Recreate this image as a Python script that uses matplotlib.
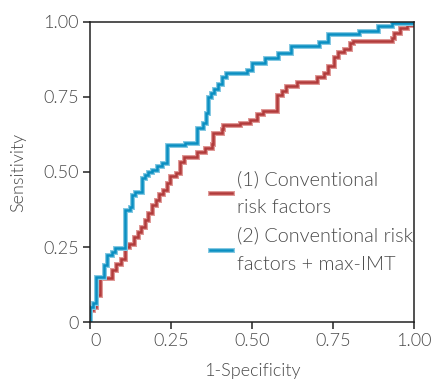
import matplotlib
matplotlib.use("Agg")
import matplotlib.pyplot as plt
import matplotlib.patheffects as pe

# ROC points (1-specificity, sensitivity)
fpr_conv = [0, 0, 0.01, 0.02, 0.03, 0.068, 0.08, 0.096, 0.108, 0.12, 0.136, 0.148,
            0.157, 0.17, 0.179, 0.191, 0.204, 0.213, 0.225, 0.238, 0.247, 0.265,
            0.278, 0.29, 0.33, 0.355, 0.377, 0.38, 0.407, 0.41, 0.463, 0.494,
            0.515, 0.534, 0.577, 0.593, 0.605, 0.639, 0.70, 0.722, 0.735, 0.753,
            0.765, 0.784, 0.802, 0.812, 0.932, 0.938, 0.957, 0.978, 0.997, 1.0]
tpr_conv = [0, 0.04, 0.05, 0.09, 0.147, 0.173, 0.193, 0.21, 0.25, 0.26, 0.283, 0.30,
            0.317, 0.34, 0.363, 0.39, 0.407, 0.427, 0.44, 0.463, 0.487, 0.497,
            0.533, 0.55, 0.567, 0.58, 0.593, 0.63, 0.643, 0.657, 0.663, 0.673,
            0.693, 0.703, 0.757, 0.77, 0.787, 0.80, 0.817, 0.83, 0.853, 0.883,
            0.90, 0.91, 0.93, 0.937, 0.947, 0.963, 0.98, 0.99, 1.0, 1.0]

fpr_imt = [0, 0, 0.01, 0.02, 0.043, 0.052, 0.068, 0.077, 0.108, 0.123, 0.13, 0.139,
           0.16, 0.17, 0.179, 0.191, 0.207, 0.222, 0.238, 0.293, 0.33, 0.349,
           0.358, 0.364, 0.373, 0.383, 0.395, 0.407, 0.42, 0.485, 0.50, 0.54,
           0.58, 0.62, 0.707, 0.735, 0.83, 0.889, 0.932, 0.997, 1.0]
tpr_imt = [0, 0.05, 0.063, 0.15, 0.19, 0.223, 0.233, 0.247, 0.373, 0.383, 0.423, 0.433,
           0.48, 0.49, 0.50, 0.507, 0.52, 0.53, 0.59, 0.597, 0.647, 0.663,
           0.697, 0.75, 0.763, 0.777, 0.793, 0.817, 0.83, 0.84, 0.863, 0.88,
           0.897, 0.92, 0.933, 0.96, 0.97, 0.987, 0.997, 1.0, 1.0]

labels = ["(1) Conventional\nrisk factors", "(2) Conventional risk\nfactors + max-IMT"]
ticks = [0, 0.25, 0.5, 0.75, 1.0]
tick_labels = ["0", "0.25", "0.50", "0.75", "1.00"]

plt.rcParams["font.family"] = ["Lato", "DejaVu Sans"]
plt.rcParams["font.weight"] = 300
plt.rcParams["axes.labelweight"] = 300
text_color = "#4a4a4a"

fig = plt.figure(figsize=(4.37, 3.83), dpi=100)
ax = fig.add_axes([0.206, 0.159, 0.741, 0.784])

series = [
    (fpr_conv, tpr_conv, "#b23b3b", "#e09a98"),
    (fpr_imt, tpr_imt, "#0a8fc2", "#86c9e2"),
]
for (x, y, core, edge), lab in zip(series, labels):
    ax.plot(x, y, drawstyle="steps-post", color=core, lw=1.8, label=lab,
            solid_joinstyle="miter",
            path_effects=[pe.Stroke(linewidth=3.6, foreground=edge), pe.Normal()])

ax.set_xlim(0, 1)
ax.set_ylim(0, 1)
ax.set_xticks(ticks)
ax.set_xticklabels(tick_labels)
ax.set_yticks(ticks)
ax.set_yticklabels(tick_labels)
ax.get_xticklabels()[0].set_horizontalalignment("left")

for s in ax.spines.values():
    s.set_color("#222222")
    s.set_linewidth(1.1)
ax.tick_params(direction="out", length=5, width=1.1, color="#222222",
               labelsize=13, labelcolor=text_color, pad=3)

ax.set_xlabel("1-Specificity", fontsize=13, color=text_color, labelpad=10)
ax.set_ylabel("Sensitivity", fontsize=13, color=text_color, labelpad=12)

leg = ax.legend(loc="upper left", bbox_to_anchor=(0.345, 0.532), frameon=False,
                fontsize=14.3, handlelength=1.1, handletextpad=0.3,
                labelspacing=0.55, borderaxespad=0)
for t in leg.get_texts():
    t.set_color(text_color)
    t.set_linespacing(1.8)

fig.savefig("out.png", dpi=100)
